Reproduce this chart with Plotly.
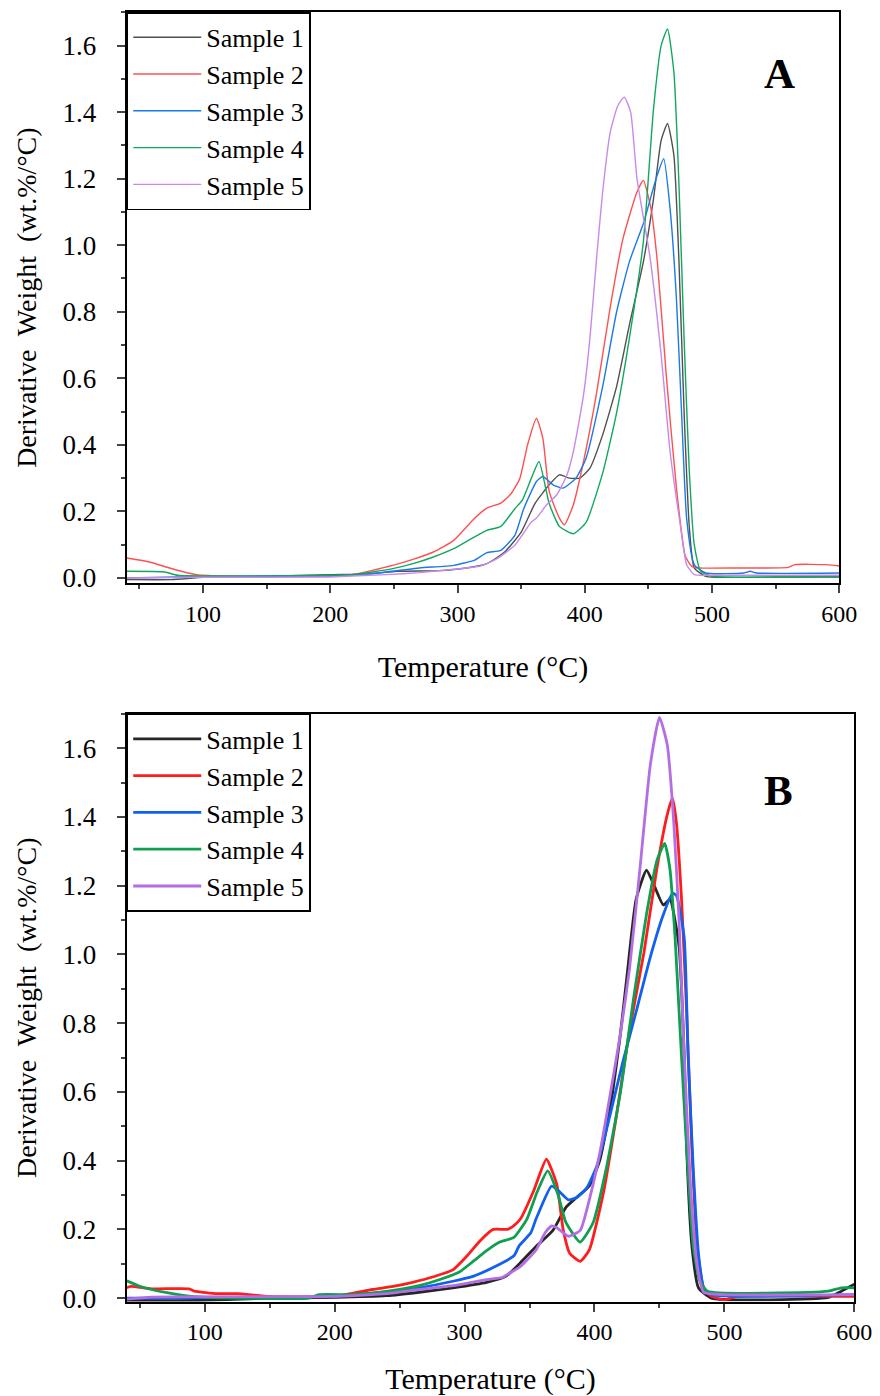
import plotly.graph_objects as go

# --- DTG curves, panel A (temperature in °C, derivative weight in wt.%/°C) ---
a_t1 = [40, 75, 100, 150, 200, 230, 252, 286, 307, 323, 337, 350, 361, 372, 380, 388, 396, 404, 414, 425, 435, 446, 454, 460, 465, 470, 474, 478, 482, 486, 495, 550, 600]
a_v1 = [-0.005, -0.005, 0.002, 0.005, 0.01, 0.012, 0.02, 0.022, 0.03, 0.043, 0.078, 0.138, 0.225, 0.28, 0.31, 0.30, 0.30, 0.33, 0.43, 0.576, 0.76, 0.95, 1.14, 1.315, 1.366, 1.27, 0.95, 0.5, 0.16, 0.03, 0.005, 0.003, 0.003]

a_t2 = [40, 58, 71, 85, 95, 120, 200, 217, 233, 249, 265, 281, 297, 313, 323, 334, 342, 349, 355, 362, 367, 372, 380, 384, 391, 399, 409, 420, 430, 441, 446, 452, 457, 464, 472, 479, 484, 490, 520, 560, 565, 590, 600]
a_v2 = [0.06, 0.048, 0.033, 0.018, 0.01, 0.006, 0.006, 0.01, 0.023, 0.038, 0.056, 0.078, 0.113, 0.178, 0.21, 0.225, 0.253, 0.30, 0.40, 0.48, 0.42, 0.26, 0.18, 0.16, 0.22, 0.35, 0.55, 0.815, 1.02, 1.16, 1.195, 1.11, 0.95, 0.61, 0.27, 0.065, 0.035, 0.03, 0.03, 0.032, 0.04, 0.04, 0.036]

a_t3 = [40, 80, 150, 200, 217, 244, 270, 297, 313, 323, 334, 345, 352, 362, 367, 375, 383, 393, 401, 414, 425, 435, 446, 456, 462, 467, 472, 476, 480, 486, 495, 525, 530, 535, 600]
a_v3 = [0.0, 0.003, 0.005, 0.006, 0.008, 0.018, 0.03, 0.038, 0.053, 0.076, 0.083, 0.128, 0.208, 0.29, 0.305, 0.28, 0.27, 0.30, 0.36, 0.575, 0.80, 0.95, 1.065, 1.2, 1.26, 1.11, 0.84, 0.5, 0.18, 0.04, 0.015, 0.015, 0.02, 0.015, 0.015]

a_t4 = [40, 70, 80, 200, 217, 233, 249, 265, 281, 297, 313, 323, 334, 345, 351, 358, 364, 372, 380, 391, 401, 414, 425, 435, 446, 454, 460, 465, 470, 474, 478, 482, 486, 491, 500, 600]
a_v4 = [0.02, 0.018, 0.008, 0.008, 0.01, 0.018, 0.028, 0.043, 0.063, 0.088, 0.123, 0.143, 0.155, 0.208, 0.235, 0.30, 0.35, 0.224, 0.155, 0.133, 0.167, 0.315, 0.497, 0.72, 1.01, 1.41, 1.6, 1.65, 1.52, 1.18, 0.72, 0.33, 0.1, 0.02, 0.005, 0.005]

a_t5 = [40, 100, 200, 217, 244, 270, 297, 318, 331, 345, 358, 362, 370, 378, 386, 391, 399, 404, 409, 414, 420, 426, 431, 436, 441, 451, 460, 467, 475, 480, 486, 500, 600]
a_v5 = [0.0, 0.002, 0.003, 0.006, 0.01, 0.016, 0.026, 0.036, 0.058, 0.098, 0.168, 0.18, 0.22, 0.25, 0.31, 0.38, 0.55, 0.72, 0.95, 1.16, 1.34, 1.42, 1.445, 1.40, 1.2, 0.97, 0.67, 0.38, 0.16, 0.04, 0.01, 0.008, 0.008]

# --- DTG curves, panel B ---
b_t1 = [40, 95, 150, 200, 240, 265, 291, 317, 332, 343, 355, 368, 378, 386, 396, 404, 409, 414, 420, 425, 432, 440, 446, 453, 458, 465, 469, 471, 475, 480, 490, 580, 590, 600]
b_v1 = [-0.007, -0.007, 0.0, 0.002, 0.007, 0.017, 0.03, 0.046, 0.064, 0.103, 0.15, 0.197, 0.264, 0.292, 0.326, 0.40, 0.49, 0.6, 0.77, 0.937, 1.16, 1.245, 1.2, 1.144, 1.16, 1.026, 0.71, 0.43, 0.15, 0.03, 0.0, 0.002, 0.02, 0.04]

b_t2 = [40, 43, 59, 88, 92, 110, 125, 150, 200, 229, 245, 260, 276, 291, 302, 312, 322, 333, 337, 343, 353, 363, 371, 376, 381, 389, 396, 407, 417, 427, 438, 448, 456, 460, 463, 467, 471, 475, 479, 484, 490, 500, 510, 600]
b_v2 = [0.03, 0.034, 0.027, 0.027, 0.02, 0.013, 0.013, 0.005, 0.005, 0.025, 0.034, 0.046, 0.062, 0.082, 0.123, 0.167, 0.2, 0.2, 0.208, 0.23, 0.31, 0.404, 0.33, 0.197, 0.13, 0.107, 0.14, 0.309, 0.533, 0.78, 1.004, 1.25, 1.407, 1.455, 1.385, 1.16, 0.825, 0.43, 0.15, 0.03, 0.005, -0.005, 0.005, 0.005]

b_t3 = [40, 59, 200, 214, 240, 265, 291, 307, 322, 338, 342, 351, 355, 367, 373, 380, 386, 394, 402, 412, 422, 433, 443, 453, 460, 463, 469, 472, 476, 480, 484, 490, 600]
b_v3 = [0.0, 0.0, 0.005, 0.01, 0.017, 0.03, 0.049, 0.064, 0.089, 0.123, 0.152, 0.19, 0.23, 0.326, 0.31, 0.286, 0.292, 0.32, 0.387, 0.533, 0.69, 0.847, 0.993, 1.116, 1.178, 1.172, 1.05, 0.71, 0.376, 0.13, 0.03, 0.01, 0.01]

b_t4 = [40, 49, 59, 72, 90, 120, 180, 188, 214, 235, 250, 265, 281, 296, 307, 317, 327, 338, 348, 356, 364, 372, 378, 389, 399, 409, 420, 430, 440, 448, 454, 458, 462, 466, 471, 476, 481, 487, 580, 590, 600]
b_v4 = [0.05, 0.036, 0.025, 0.015, 0.005, 0.0, 0.0, 0.01, 0.01, 0.017, 0.025, 0.036, 0.054, 0.076, 0.108, 0.138, 0.163, 0.177, 0.23, 0.31, 0.37, 0.3, 0.22, 0.163, 0.22, 0.376, 0.6, 0.87, 1.116, 1.273, 1.323, 1.25, 1.05, 0.77, 0.43, 0.15, 0.05, 0.02, 0.02, 0.03, 0.03]

b_t5 = [40, 59, 200, 240, 265, 291, 317, 329, 333, 343, 355, 362, 367, 371, 380, 389, 396, 404, 412, 420, 427, 435, 443, 450, 456, 461, 465, 469, 474, 479, 484, 500, 600]
b_v5 = [-0.003, 0.003, 0.005, 0.013, 0.025, 0.036, 0.054, 0.06, 0.069, 0.092, 0.14, 0.19, 0.21, 0.205, 0.18, 0.197, 0.286, 0.42, 0.59, 0.77, 0.96, 1.25, 1.553, 1.69, 1.61, 1.385, 1.105, 0.71, 0.32, 0.096, 0.017, 0.01, 0.01]

names = ["Sample 1", "Sample 2", "Sample 3", "Sample 4", "Sample 5"]
colors_a = ["#505050", "#ff5050", "#1a7ae6", "#10a860", "#c88ae8"]
colors_b = ["#262626", "#ff1c1c", "#1062ee", "#0ea050", "#b46ee4"]

serif = "Liberation Serif, Times New Roman, serif"

fig = go.Figure()

panel_a = [(a_t1, a_v1), (a_t2, a_v2), (a_t3, a_v3), (a_t4, a_v4), (a_t5, a_v5)]
panel_b = [(b_t1, b_v1), (b_t2, b_v2), (b_t3, b_v3), (b_t4, b_v4), (b_t5, b_v5)]

for i, (t, v) in enumerate(panel_a):
    fig.add_trace(go.Scatter(
        x=t, y=v, mode="lines", name=names[i],
        line=dict(color=colors_a[i], width=1.4, shape="spline", smoothing=0.5),
        xaxis="x", yaxis="y", legend="legend", legendgroup="a%d" % i
    ))

for i, (t, v) in enumerate(panel_b):
    fig.add_trace(go.Scatter(
        x=t, y=v, mode="lines", name=names[i],
        line=dict(color=colors_b[i], width=2.8, shape="spline", smoothing=0.5),
        xaxis="x2", yaxis="y2", legend="legend2", legendgroup="b%d" % i
    ))

W, H = 880, 1396
# screen position ~ offset + scale * figure position (page margin + fit)
OFF_X, SX = 9.7, 0.976
OFF_Y, SY = 8.7, 0.992

def px_x(p):
    return (p - OFF_X) / SX / W

def px_y(p):
    return 1 - (p - OFF_Y) / SY / H

xcommon = dict(
    range=[40, 600], dtick=100, tick0=0, ticks="outside", ticklen=8, tickwidth=2,
    minor=dict(dtick=50, ticks="outside", ticklen=4, tickwidth=2),
    showline=True, linewidth=2, linecolor="black", mirror=True,
    showgrid=False, zeroline=False,
    tickfont=dict(family=serif, size=24, color="black"),
)
ycommon = dict(
    dtick=0.2, tick0=0, ticks="outside", ticklen=8, tickwidth=2, tickformat=".1f",
    minor=dict(dtick=0.1, ticks="outside", ticklen=4, tickwidth=2),
    showline=True, linewidth=2, linecolor="black", mirror=True,
    showgrid=False, zeroline=False, ticklabelstandoff=15,
    tickfont=dict(family=serif, size=27, color="black"),
    title=dict(text="Derivative  Weight  (wt.%/°C)", font=dict(family=serif, size=28, color="black"), standoff=18),
)

xtitle_font = dict(family=serif, size=30, color="black")

legend_style = dict(
    xanchor="left", yanchor="top", bgcolor="white",
    bordercolor="black", borderwidth=1.5,
    font=dict(family=serif, size=26, color="black"),
    tracegroupgap=0, itemwidth=68,
)

fig.update_layout(
    width=W, height=H,
    margin=dict(l=0, r=0, t=0, b=0),
    plot_bgcolor="white", paper_bgcolor="white",
    xaxis=dict(xcommon, domain=[px_x(128), px_x(838)], anchor="y",
               title=dict(text="Temperature (°C)", font=xtitle_font, standoff=30)),
    yaxis=dict(ycommon, domain=[px_y(584), px_y(13)], range=[-0.015, 1.70], anchor="x"),
    xaxis2=dict(xcommon, domain=[px_x(128), px_x(853)], anchor="y2",
                title=dict(text="Temperature (°C)", font=xtitle_font, standoff=24)),
    yaxis2=dict(ycommon, domain=[px_y(1303), px_y(715)], range=[-0.01, 1.70], anchor="x2"),
    legend=dict(legend_style, x=px_x(128), y=px_y(13)),
    legend2=dict(legend_style, x=px_x(128), y=px_y(715)),
    showlegend=True,
)

fig.add_annotation(text="<b>A</b>", x=px_x(778), y=px_y(74), xref="paper", yref="paper",
                   xanchor="center", yanchor="middle", showarrow=False,
                   font=dict(family=serif, size=43, color="black"))
fig.add_annotation(text="<b>B</b>", x=px_x(777), y=px_y(792), xref="paper", yref="paper",
                   xanchor="center", yanchor="middle", showarrow=False,
                   font=dict(family=serif, size=43, color="black"))

fig.write_html("out.html")
